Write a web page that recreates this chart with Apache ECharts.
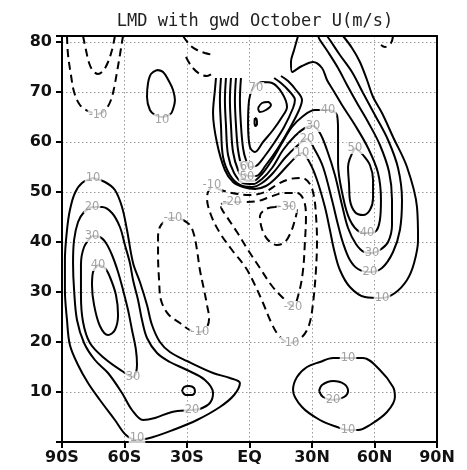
<!DOCTYPE html>
<html>
<head>
<meta charset="utf-8">
<script src="https://cdn.jsdelivr.net/npm/echarts@6/dist/echarts.min.js"></script>
<style>
  html, body { margin: 0; padding: 0; background: #fff; }
  #chart { width: 467px; height: 470px; }
</style>
</head>
<body>
<div id="chart"></div>
<script>
// Zonal-mean zonal wind U (m/s), October, latitude vs height (km).
// Each array is one contour line as [latitude, height] pairs.

const latTicks = ['90S', '60S', '30S', 'EQ', '30N', '60N', '90N'];

// easterly cells near the southern polar stratopause (dashed)
const polarNegOuter = [[-87.6,81.2],[-87.1,77.4],[-85.7,73.4],[-84.2,70],[-81.4,67.4],[-77.5,66.2],[-72.7,65.6],[-68.9,66.6],[-66.5,68.4],[-65.0,70.8],[-63.6,74],[-62.2,77.4],[-61.2,80],[-60.7,81.2]];
const polarNegInner = [[-79.9,81.2],[-78.5,78.4],[-77,75.8],[-75.1,74.2],[-72.7,73.6],[-70.3,74.2],[-67.9,76],[-66,78.4],[-64.6,81.2]];
const midSouth10 = [[-44.4,74.4],[-47.3,73.6],[-48.7,71.8],[-49.2,69],[-47.8,66.4],[-45.4,65.4],[-42,65],[-38.6,65.4],[-37.2,66],[-35.8,68.4],[-36.7,70.4],[-38.2,71.8],[-41.5,74],[-44.4,74.4]];
const subtropNegA = [[-31.9,81.2],[-28.6,79.4],[-25.2,78.4],[-21.4,77.8],[-17.5,77.4]];
const subtropNegB = [[-30.5,77],[-27.6,75],[-23.8,73.6],[-20.4,73.2],[-17.5,73.8]];

// equatorial mesospheric jet
const jet80 = [[4.1,66.8],[6,67.8],[8.9,68],[10.3,67.4],[7.9,66.4],[5,66],[4.1,66.8]];
const jetSpot = [[2.6,64.8],[3.4,64.6],[3.6,63.6],[2.9,63.2],[2.4,64],[2.6,64.8]];
const jet70 = [[6,72],[10.8,71.8],[15.6,69.8],[18,67],[15.6,65],[11.3,62.4],[6.5,60],[2.6,58],[0.2,59],[-0.7,63.8],[-0.2,68.4],[1.2,70.4],[3.6,71.6],[6,72]];
const jet60 = [[-4.1,72.8],[-4.6,68.4],[-4.1,63.4],[-3.1,58.8],[-1.7,56.4],[0.2,55],[3.1,55.2],[7,57],[11.8,59.8],[16.6,63],[20.9,66.8],[21.8,68.4],[19,70.2],[15.1,71.8],[11.8,72.8]];
const jet50 = [[-6.5,72.8],[-7,68.4],[-6.5,63.4],[-5.5,58.4],[-3.6,55],[-0.7,53.2],[3.1,53.2],[7.9,55.4],[13.7,58.8],[19.4,62.8],[23.8,66.4],[25.2,68.4],[22.3,70.4],[18.5,72.2],[15.1,73.2]];
const jet40 = [[-8.9,72.8],[-9.4,68.4],[-8.9,63.4],[-7.9,58],[-5.5,54.4],[-2.2,52.4],[1.7,52.2],[6,53.6],[10.8,56.4],[15.6,59.8],[20.4,63],[25.2,65],[31.4,66.4],[37.7,66.4],[42,65.4],[42.5,62.4],[42.5,55.8],[44.9,49],[48.2,44.4],[53,42],[56.4,41.8],[60.2,42],[62.6,44.4],[63.1,48.4],[61.7,53.8],[56.9,58.8],[50.6,63.4],[44.4,67.4],[40.1,70.4],[37.2,72.4],[34.8,74.8],[30.5,76],[25.2,75.2],[20.4,74],[19.9,76],[21.4,78.4],[23.3,81.2]];
const jet30 = [[-11.3,72.8],[-11.8,68.4],[-11.3,63.4],[-10.3,57.4],[-7.4,53.8],[-3.1,51.8],[1.7,51.6],[6,52.6],[10.8,54.8],[16.1,58.4],[21.8,61.2],[26.6,62.8],[30.5,63.2],[33.8,61.8],[37.2,58.4],[41,53.4],[44.4,47.4],[47.3,42.8],[51.1,39.6],[55,38],[58.8,37.8],[62.6,38.4],[66.5,40],[68.4,43.4],[68.4,48.4],[67,54],[62.6,59.4],[56.9,64],[51.6,67.8],[46.8,71.4],[42.5,74.8],[37.7,78],[33.8,80.4],[32.9,81.2]];
const jet20 = [[-13.7,72.8],[-14.2,68.4],[-13.7,63.4],[-12.7,57],[-9.4,53.4],[-4.6,51.4],[1.2,51],[6,51.8],[11.3,53.8],[17,56.8],[22.8,59.2],[27.6,60.6],[31.4,58.4],[35.3,55],[39.6,48.4],[42.5,43.4],[44.9,39.8],[48.2,36.4],[52.1,34.6],[57.8,34],[63.6,34.8],[68.9,38],[72.2,42.4],[73.2,48.4],[71.3,54.8],[66.5,60.4],[60.2,65.4],[54.5,69.8],[49.2,74],[43.4,77.4],[38.6,80.4],[37.2,81.2]];
const jet10 = [[-16.1,72.8],[-16.6,70.4],[-17.5,65.8],[-15.6,59.8],[-11.8,54.4],[-7.9,52],[-3.1,51],[2.6,50.6],[7.9,51.2],[12.7,52.8],[18.5,55.4],[22.8,57.2],[25.2,57.8],[29,55.8],[32.4,52.4],[36.2,47],[38.6,42.4],[40.6,38.4],[43.4,34.4],[48.2,31],[55.4,29],[63.6,28.8],[69.8,29.8],[75.6,32.4],[79,35.8],[80.9,40.4],[80.4,47],[75.6,55],[68.9,61],[63.6,65.8],[59.3,69],[56.4,72.4],[53,76],[49.2,78.8],[44.9,81.2]];

// northern winter stratospheric jet core
const north50 = [[50.6,58.8],[47.3,55],[47.8,51.4],[48.2,48.4],[50.6,46],[54.5,45.4],[57.8,46.4],[59.3,48.8],[59.3,52.4],[57.8,55.4],[54.5,57.4],[52.1,58.4],[50.6,58.8]];
const northTopNeg = [[68.9,81.2],[67.9,79.8],[65,79],[63.1,79.4]];

// tropical easterlies (dashed)
const tropNeg10 = [[-15.1,50.6],[-8.4,49.8],[0.2,49.4],[7.4,50],[13.7,51.6],[19.4,52.6],[25.2,52.8],[29,51.6],[31,49],[31.9,45.4],[32.4,40.4],[31.9,34.4],[30.5,27.8],[28.6,23.4],[25.2,21],[19.4,19.8],[14.2,21.2],[10.3,24],[6.5,27.8],[2.6,31.4],[-1.7,34.8],[-8.4,38.4],[-14.2,41.8],[-18.5,45.4],[-20.4,48.8],[-19.4,50.4],[-17,51],[-15.1,50.6]];
const tropNeg20 = [[-13.7,47.6],[-8.4,48],[-2.2,48],[4.1,48.2],[9.8,49],[16.6,49.8],[22.8,49.8],[26.2,48.2],[27.1,44.8],[26.6,40],[25.7,34.4],[23.8,30],[20.9,27.2],[16.1,28.8],[10.8,31.2],[5,34.8],[-0.7,38.4],[-6,42],[-10.8,45],[-13.7,47.2],[-13.7,47.6]];
const tropNeg30 = [[12.2,47],[7.9,46.6],[5,45.2],[6,42.6],[8.9,40.4],[13.2,39.4],[17,40],[19.9,42],[21.8,44.4],[22.8,46.4],[20.4,47.2],[16.6,47.2],[12.2,47]];
const southNeg10 = [[-31.9,44.4],[-28.6,43.4],[-26.6,41.4],[-25.2,38.4],[-23.8,34.4],[-21.8,30.4],[-20.4,27.4],[-19.4,24.8],[-20.4,23],[-23.8,22],[-28.6,22.4],[-33.4,23.8],[-39.1,25.6],[-42.5,28.4],[-43.4,32.4],[-43.9,37.4],[-43.9,41],[-43,43],[-40.6,44.2],[-36.7,44.8],[-31.9,44.4]];

// southern westerly jet
const south10 = [[-75.1,52.8],[-69.4,52],[-64.6,50.4],[-61.2,47],[-58.8,42.4],[-55.9,35.8],[-52.6,32],[-49.2,27.4],[-46.8,23.4],[-43,20],[-38.2,18],[-30,16.2],[-17.5,13.8],[-9.4,12.8],[-4.6,11.8],[-7.4,9.4],[-14.2,7],[-25.2,4.4],[-36.7,2.4],[-46.3,1],[-54,0.4],[-59.3,1.4],[-64.6,4.4],[-71.8,8.4],[-77.5,11.8],[-82.3,15.4],[-86.2,19.4],[-87.6,24.4],[-88.6,30.4],[-88.6,36.4],[-87.6,42.4],[-86.2,46.4],[-83.8,49.8],[-80.4,51.8],[-75.1,52.8]];
const south20 = [[-75.6,47],[-70.8,47],[-66,45.8],[-62.2,43],[-59.8,39.4],[-57.4,35.8],[-55.9,32.4],[-53.5,28.4],[-51.6,24.4],[-49.2,20.8],[-44.4,17.8],[-38.2,16],[-30,14.4],[-21.4,12.4],[-17.5,9.8],[-19,7.8],[-23.8,6.6],[-27.6,6.4],[-37.2,6],[-45.4,4.8],[-51.1,4.4],[-56.4,6.4],[-61.2,9.8],[-67.9,13.8],[-74.2,16.4],[-79.4,19.8],[-82.8,24.4],[-84.2,30.4],[-84.7,35.8],[-84.2,40.4],[-82.3,44],[-79.4,46],[-75.6,47]];
const south30 = [[-75.6,41.2],[-71.8,41],[-68.9,39.8],[-66,37.4],[-63.1,34],[-60.7,30.4],[-58.3,26.4],[-56.4,22.4],[-54.5,18.4],[-54,15.4],[-55.9,13],[-61.2,14.2],[-69.8,16.8],[-76.6,19.8],[-79.9,24],[-80.9,29.4],[-80.9,35.4],[-79.4,39],[-75.6,41.2]];
const south40 = [[-72.7,35.4],[-69.4,34.8],[-67,33],[-64.1,29.4],[-63.1,25.4],[-64.6,22.4],[-67.9,21.4],[-71.8,23.2],[-74.6,27.4],[-75.6,31.4],[-75.1,34],[-72.7,35.4]];
const southSmall30 = [[-32.4,10.2],[-31.4,11],[-29,11.2],[-26.6,10.8],[-26.2,10],[-27.6,9.4],[-30.5,9.4],[-32.4,10.2]];

// northern tropospheric jet
const north10Low = [[47.3,16.8],[54.5,16.8],[62.6,14.4],[68.9,11],[69.8,9],[66,6],[57.8,3.4],[52.1,2.4],[47.3,2.4],[42,3],[33.8,4.4],[25.2,7],[20.9,10.4],[22.8,13],[27.6,15],[33.8,16],[40.1,16.8],[47.3,16.8]];
const north20Low = [[33.4,10.2],[34.8,11.4],[40.1,12.2],[45.4,11.6],[47.3,10.2],[45.4,9],[40.1,8.4],[35.3,9],[33.4,10.2]];

// contour labels: [text, latitude, height]
const contourLabels = [
  ['-10',-72.7,65.4],['10',-42,64.4],
  ['70',3.1,70.8],['60',-1.2,55],['50',-1.2,53],
  ['40',37.7,66.4],['30',30.5,63.2],['20',27.6,60.6],['10',25.2,57.8],
  ['-10',-18,51.4],['-20',-8.4,48],['-30',18,47],['-20',20.9,27],['-10',19.4,19.8],
  ['-10',-36.7,44.8],['-10',-23.8,22],
  ['50',50.6,58.8],['40',56.4,41.8],['30',58.8,37.8],['20',57.8,34],['10',63.6,28.8],
  ['10',47.3,16.8],['20',40.1,8.4],['10',47.3,2.4],
  ['10',-75.1,52.8],['20',-75.6,47],['30',-75.6,41.2],['40',-72.7,35.4],
  ['30',-55.9,13],['20',-27.6,6.4],['10',-54,0.8]
];

const solidLines = [midSouth10, jet80, jetSpot, jet70, jet60, jet50, jet40, jet30, jet20, jet10,
  north50, south10, south20, south30, south40, southSmall30, north10Low, north20Low];
const dashedLines = [polarNegOuter, polarNegInner, subtropNegA, subtropNegB, northTopNeg,
  tropNeg10, tropNeg20, tropNeg30, southNeg10];

const series = [];
solidLines.forEach(function (pts) {
  series.push({
    type: 'line', data: pts, showSymbol: false, smooth: 0.35, silent: true, z: 3,
    lineStyle: { color: '#000', width: 2, type: 'solid' }
  });
});
dashedLines.forEach(function (pts) {
  series.push({
    type: 'line', data: pts, showSymbol: false, smooth: 0.35, silent: true, z: 3,
    lineStyle: { color: '#000', width: 2, type: [8, 5] }
  });
});
series.push({
  type: 'scatter', silent: true, z: 5, symbolSize: 1,
  itemStyle: { color: 'rgba(0,0,0,0)' },
  data: contourLabels.map(function (d) { return { name: d[0], value: [d[1], d[2]] }; }),
  label: {
    show: true, position: 'inside', formatter: '{b}',
    color: '#8c8c8c', fontFamily: 'DejaVu Sans', fontSize: 11.5,
    backgroundColor: '#fff', padding: [0, 1]
  }
});

// plain axes on the top and right close the frame
const frameAxis = {
  axisLine: { show: true, onZero: false, lineStyle: { color: '#000', width: 2 } },
  axisTick: { show: false }, axisLabel: { show: false }, splitLine: { show: false }
};

const chart = echarts.init(document.getElementById('chart'), null, { renderer: 'canvas' });
chart.setOption({
  animation: false,
  backgroundColor: '#fff',
  title: {
    text: 'LMD with gwd October U(m/s)',
    left: 250, top: 8, textAlign: 'center',
    textStyle: { fontFamily: 'DejaVu Sans Mono', fontSize: 17, fontWeight: 'normal', color: '#222' }
  },
  grid: { left: 62, right: 30, top: 36, bottom: 28 },
  xAxis: [{
    type: 'value', min: -90, max: 90, interval: 30,
    axisLine: { onZero: false, lineStyle: { color: '#000', width: 2 } },
    axisTick: { show: true, length: 6, lineStyle: { color: '#000', width: 2 } },
    splitLine: { show: true, lineStyle: { color: '#999', width: 1, type: [1.5, 2.5] } },
    axisLabel: {
      margin: 8, color: '#111', fontFamily: 'DejaVu Sans', fontWeight: 'bold', fontSize: 16,
      formatter: function (v) { return latTicks[Math.round((v + 90) / 30)]; }
    }
  }, Object.assign({ type: 'value', position: 'top', min: -90, max: 90 }, frameAxis)],
  yAxis: [{
    type: 'value', min: 0, max: 81.2, interval: 10,
    axisLine: { onZero: false, lineStyle: { color: '#000', width: 2 } },
    axisTick: { show: true, length: 6, lineStyle: { color: '#000', width: 2 } },
    splitLine: { show: true, lineStyle: { color: '#999', width: 1, type: [1.5, 2.5] } },
    axisLabel: {
      margin: 10, color: '#111', fontFamily: 'DejaVu Sans', fontWeight: 'bold', fontSize: 16,
      formatter: function (v) { return (v > 0 && Math.abs(v % 10) < 1e-6) ? String(v) : ''; }
    }
  }, Object.assign({ type: 'value', position: 'right', min: 0, max: 81.2 }, frameAxis)],
  series: series
});
</script>
</body>
</html>
